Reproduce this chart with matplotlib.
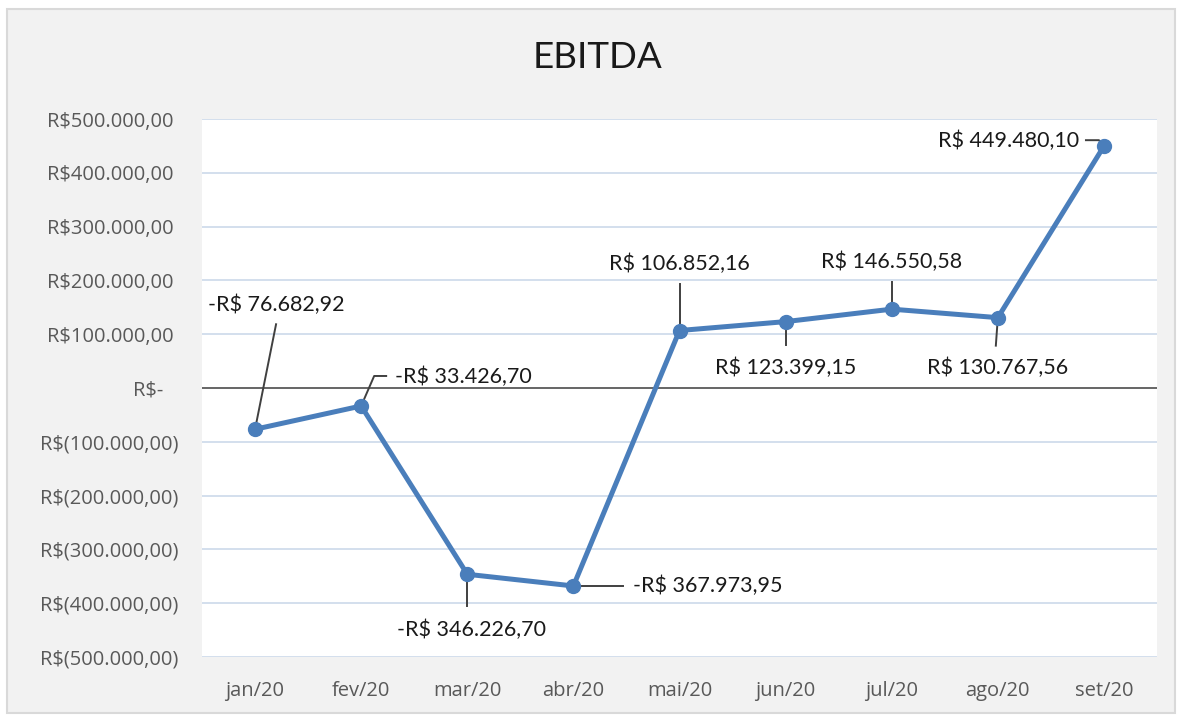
import numpy as np
import matplotlib.pyplot as plt
import matplotlib.transforms as mtransforms
from matplotlib.patches import Rectangle

# Dados do gráfico
meses = ["jan/20", "fev/20", "mar/20", "abr/20", "mai/20", "jun/20", "jul/20", "ago/20", "set/20"]
ebitda = [-76682.92, -33426.70, -346226.70, -367973.95, 106852.16,
          123399.15, 146550.58, 130767.56, 449480.10]
ticks_y = [500000, 400000, 300000, 200000, 100000, 0,
           -100000, -200000, -300000, -400000, -500000]
labels_y = ["R$500.000,00", "R$400.000,00", "R$300.000,00", "R$200.000,00", "R$100.000,00",
            "R$-", "R$(100.000,00)", "R$(200.000,00)", "R$(300.000,00)", "R$(400.000,00)",
            "R$(500.000,00)"]


def fmt_brl(v):
    s = f"{abs(v):,.2f}".replace(",", "X").replace(".", ",").replace("X", ".")
    return ("-R$ " if v < 0 else "R$ ") + s


# posição dos rótulos (pixels, relativo ao ponto) e das linhas de chamada
txt_off = [(21, 124, "center"), (34, 29, "left"), (4, -56, "center"), (60, 0, "left"),
           (0, 67, "center"), (0, -46, "center"), (0, 47, "center"), (0, -50, "center"),
           (-25, 5, "right")]
leaders = [[(0, 0), (21, 105)], [(0, 0), (13, 30), (25, 30)], [(0, 0), (0, -32)],
           [(0, 0), (50, 0)], [(0, 0), (0, 47)], [(0, 0), (0, -23)], [(0, 0), (0, 27)],
           [(0, 0), (-2, -28)], [(0, 0), (-5, 6), (-18, 6)]]

azul = "#4a7ebb"
cinza_txt = "#595959"

fig = plt.figure(figsize=(11.78, 7.15), dpi=100, facecolor="white")
fig.patches.append(Rectangle((7 / 1178, 2 / 715), 1168 / 1178, 704 / 715,
                             transform=fig.transFigure, facecolor="#f2f2f2",
                             edgecolor="#d9d9d9", lw=1.5, zorder=-10))

ax = fig.add_axes([202 / 1178, 58 / 715, 955 / 1178, 538 / 715])
ax.set_facecolor("white")
x = np.arange(len(meses))

ax.set_xlim(-0.5, len(meses) - 0.5)
ax.set_ylim(-500000, 500000)
ax.set_yticks(ticks_y)
ax.set_yticklabels(labels_y)
ax.set_xticks(x)
ax.set_xticklabels(meses)

for t in ticks_y:
    if t != 0:
        ax.axhline(t, color="#d0dcec", lw=1.3, zorder=1)
ax.axhline(0, color="#595959", lw=1.3, zorder=2)

for s in ax.spines.values():
    s.set_visible(False)
ax.tick_params(axis="both", length=0, colors=cinza_txt)
ax.tick_params(axis="y", pad=17, labelsize=14.5)
ax.tick_params(axis="x", pad=17, labelsize=14.5)
for lab in ax.get_yticklabels():
    lab.set_fontfamily("Open Sans")
    txt = lab.get_text()
    if not txt.endswith(")"):
        dx = -15 if txt == "R$-" else -5
        lab.set_transform(lab.get_transform() + mtransforms.Affine2D().translate(dx, 0))
for lab in ax.get_xticklabels():
    lab.set_fontfamily("Open Sans")

ax.plot(x, ebitda, color=azul, lw=3.6, marker="o", markersize=10,
        markerfacecolor=azul, markeredgecolor=azul, zorder=5, solid_capstyle="round")

fig.canvas.draw()
for i, v in enumerate(ebitda):
    dx, dy, ha = txt_off[i]
    ax.annotate(fmt_brl(v), xy=(i, v), xytext=(dx, dy), textcoords="offset pixels",
                ha=ha, va="center", fontsize=15.5, fontfamily="Lato", color="#1a1a1a",
                zorder=6, annotation_clip=False)
    px, py = ax.transData.transform((i, v))
    tr = mtransforms.Affine2D().translate(px, py)
    xs = [p[0] for p in leaders[i]]
    ys = [p[1] for p in leaders[i]]
    ax.plot(xs, ys, color="#404040", lw=1.4, transform=tr, clip_on=False, zorder=4)

fig.text(598 / 1178, 1 - 58 / 715, "EBITDA", ha="center", va="center",
         fontsize=26.5, fontfamily="Lato", color="#1a1a1a")

fig.savefig("out.png", dpi=100, facecolor="white")
